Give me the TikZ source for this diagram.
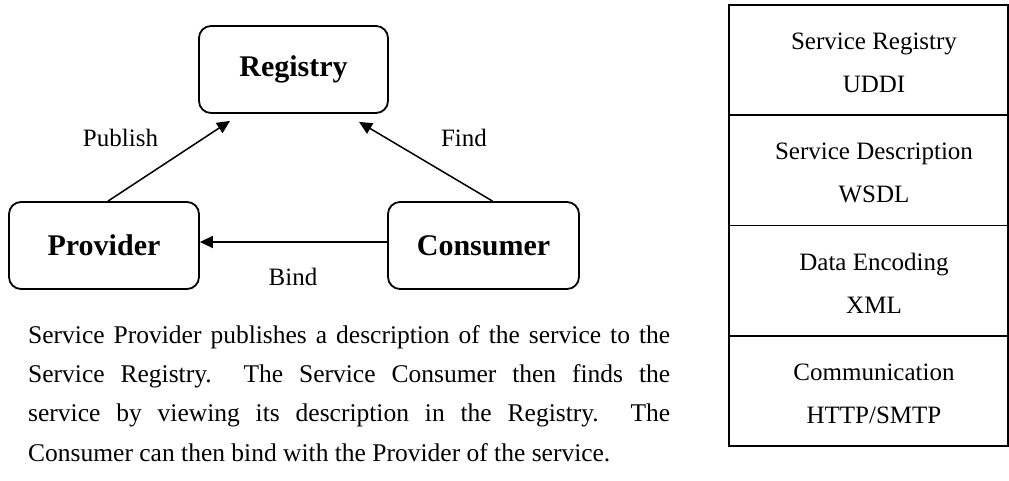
\documentclass[tikz,border=0pt]{standalone}
\usepackage{fontspec}
\setmainfont{Liberation Serif}
\usetikzlibrary{arrows.meta,positioning}

\tikzset{
  actor/.style={draw, line width=1.8pt, rounded corners=12pt, inner sep=0pt,
    minimum height=87pt, font=\fontsize{30}{36}\selectfont\bfseries},
  flowlabel/.style={anchor=base, inner sep=0pt, font=\fontsize{25}{30}\selectfont},
  flow/.style={line width=1.5pt, -{Triangle[length=13pt,width=12pt]}},
  layer/.style={draw, line width=1.8pt, inner sep=0pt, outer sep=0pt,
    minimum width=279pt, minimum height=110.25pt},
  layertext/.style={align=center, inner sep=0pt,
    font=\fontsize{25}{43}\selectfont},
  para/.style={anchor=north west, inner sep=0pt, text width=642pt, align=justify,
    font=\fontsize{25.5}{39.3}\selectfont}
}

\begin{document}
\begin{tikzpicture}[x=1pt, y=-1pt]
  \useasboundingbox (0,0) rectangle (1009,480);

  % SOA triangle: registry, provider, consumer
  \node[actor, minimum width=189pt] (registry) at (293.5,69.5) {Registry};
  \node[actor, minimum width=190pt] (provider) at (104,245.5) {Provider};
  \node[actor, minimum width=191pt] (consumer) at (483.5,245.5) {Consumer};

  \draw[flow] ([xshift=4pt]provider.north) -- ([xshift=-63.5pt,yshift=-7pt]registry.south);
  \draw[flow] ([xshift=9pt]consumer.north) -- ([xshift=65.5pt,yshift=-8pt]registry.south);
  \draw[flow] ([yshift=3.5pt]consumer.west) -- ([yshift=3.5pt]provider.east);

  \node[flowlabel] (publish) at (120.5,146) {Publish};
  \node[flowlabel] (find) at (464,146) {Find};
  \node[flowlabel] (bind) at (293,285) {Bind};

  % explanatory paragraph
  \node[para] (text) at (28,325) {Service Provider publishes a description of the service to the\linebreak
    Service Registry.\ \ The Service Consumer then finds the\linebreak
    service by viewing its description in the Registry.\ \ The\linebreak
    Consumer can then bind with the Provider of the service.};

  % web service protocol stack
  \node[layer] (l1) at (868.5,60.125) {};
  \node[layer, below=0pt of l1] (l2) {};
  \node[layer, below=0pt of l2] (l3) {};
  \node[layer, below=0pt of l3] (l4) {};

  \node[layertext] (t1) at ([xshift=5.5pt,yshift=-3pt]l1.center) {Service Registry\\UDDI};
  \node[layertext] (t2) at ([xshift=5.5pt,yshift=-3pt]l2.center) {Service Description\\WSDL};
  \node[layertext] (t3) at ([xshift=5.5pt,yshift=-3pt]l3.center) {Data Encoding\\XML};
  \node[layertext] (t4) at ([xshift=5.5pt,yshift=-3pt]l4.center) {Communication\\HTTP/SMTP};
\end{tikzpicture}
\end{document}
